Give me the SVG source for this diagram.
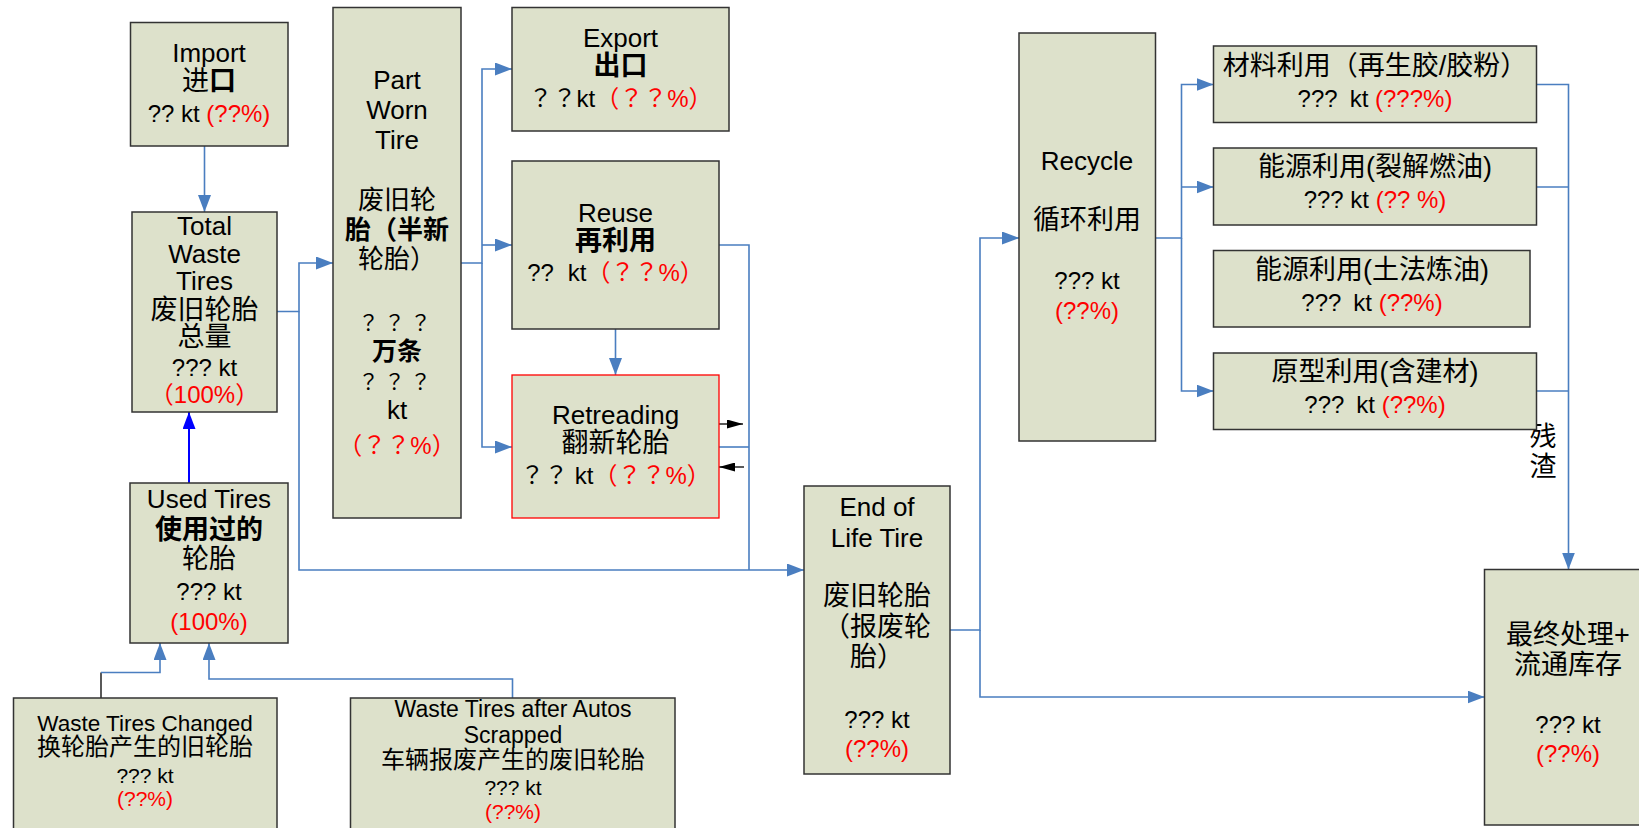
<svg xmlns="http://www.w3.org/2000/svg" width="1639" height="828" viewBox="0 0 1639 828">
<style>
.box{fill:#DDE1CB;stroke:#333;stroke-width:1.5}
.rb{fill:#DDE1CB;stroke:#FF0000;stroke-width:1.3}
text{font-family:"Liberation Sans","Noto Sans CJK SC",sans-serif;text-anchor:middle;fill:#000}
.l{font-size:26px}
.c{font-size:27px}
.n{font-size:24px}
.r{fill:#FF0000}
.b{font-weight:bold}
.j{font-family:"Noto Sans CJK JP",sans-serif}
.w{fill:none;stroke:#4A7EC0;stroke-width:1.6}
.k{fill:none;stroke:#000;stroke-width:1.3}
</style>
<defs>
<marker id="ab" markerUnits="userSpaceOnUse" markerWidth="18" markerHeight="13" refX="17" refY="6.5" orient="auto"><path d="M0,0 L17,6.5 L0,13 z" fill="#4A7EC0"/></marker>
<marker id="ap" markerUnits="userSpaceOnUse" markerWidth="18" markerHeight="13" refX="17" refY="6.5" orient="auto"><path d="M0,0 L17,6.5 L0,13 z" fill="#0000FF"/></marker>
<marker id="ak" markerUnits="userSpaceOnUse" markerWidth="17" markerHeight="9" refX="16" refY="4.5" orient="auto"><path d="M0,0 L16,4.5 L0,9 z" fill="#000"/></marker>
</defs>
<rect width="1639" height="828" fill="#fff"/>
<g id="connectors">
<path class="w" d="M204.5,146 V212" marker-end="url(#ab)"/>
<path d="M189,483 V412" fill="none" stroke="#0000FF" stroke-width="2" marker-end="url(#ap)"/>
<path class="w" d="M277,311.5 H299 V263 H333" marker-end="url(#ab)"/>
<path class="w" d="M299,311.5 V570 H804" marker-end="url(#ab)"/>
<path class="w" d="M461,263 H482 V69 H512" marker-end="url(#ab)"/>
<path class="w" d="M482,245 H512" marker-end="url(#ab)"/>
<path class="w" d="M482,263 V447 H512" marker-end="url(#ab)"/>
<path class="w" d="M615.5,329 V375" marker-end="url(#ab)"/>
<path class="w" d="M719,245 H749 V570"/>
<path class="w" d="M719,447 H749"/>
<path class="k" d="M719,424 H743" marker-end="url(#ak)"/>
<path class="k" d="M744,467 H719" marker-end="url(#ak)"/>
<path class="w" d="M950,630 H980 V238 H1019" marker-end="url(#ab)"/>
<path class="w" d="M980,630 V697 H1484.5" marker-end="url(#ab)"/>
<path class="w" d="M1155.5,238 H1181.5 V84.5 H1213.5" marker-end="url(#ab)"/>
<path class="w" d="M1181.5,187 H1213.5" marker-end="url(#ab)"/>
<path class="w" d="M1181.5,238 V391 H1213.5" marker-end="url(#ab)"/>
<path class="w" d="M1536.5,84.5 H1568.5 V569.5" marker-end="url(#ab)"/>
<path class="w" d="M1536.5,187 H1568.5"/>
<path class="w" d="M1536.5,391 H1568.5"/>
<path class="k" d="M101,698 V672.5"/>
<path class="w" d="M101,672.5 H160 V643" marker-end="url(#ab)"/>
<path class="w" d="M512.5,698 V679 H209 V643" marker-end="url(#ab)"/>
<text x="1543" y="446" class="c">残</text>
<text x="1543" y="476" class="c">渣</text>
</g>
<g id="import">
<rect class="box" x="130.5" y="22.5" width="157.5" height="123.5"/>
<text x="209" y="62" class="l">Import</text>
<text x="209" y="90" class="c">进<tspan class="b">口</tspan></text>
<text x="209" y="122" class="n">?? kt <tspan class="r">(??%)</tspan></text>
</g>
<g id="total">
<rect class="box" x="132" y="212" width="145" height="200"/>
<text x="204.5" y="235" class="l">Total</text>
<text x="204.5" y="263" class="l">Waste</text>
<text x="204.5" y="290" class="l">Tires</text>
<text x="204.5" y="319" class="c">废旧轮胎</text>
<text x="204.5" y="346" class="c">总量</text>
<text x="204.5" y="376" class="n">??? kt</text>
<text x="204.5" y="403" class="n r">（100%）</text>
</g>
<g id="partworn">
<rect class="box" x="333" y="7.5" width="128" height="510.5"/>
<text x="397" y="89" class="l">Part</text>
<text x="397" y="119" class="l">Worn</text>
<text x="397" y="149" class="l">Tire</text>
<text x="397" y="209" class="c" style="font-size:26px">废旧轮</text>
<text x="397" y="239" class="c b" style="font-size:26px">胎（半新</text>
<text x="397" y="268" class="c" style="font-size:26px">轮胎）</text>
<text x="397" y="330" class="j" style="font-size:21px;letter-spacing:5px">？？？</text>
<text x="397" y="360" class="c b" style="font-size:25px">万条</text>
<text x="397" y="389" class="j" style="font-size:21px;letter-spacing:5px">？？？</text>
<text x="397" y="419" class="l">kt</text>
<text x="397" y="454" class="n r">（<tspan class="j">？？</tspan>%）</text>
</g>
<g id="export">
<rect class="box" x="512" y="7.5" width="217" height="123.5"/>
<text x="620.5" y="47" class="l">Export</text>
<text x="620.5" y="75" class="c b">出口</text>
<text x="620.5" y="107" class="n"><tspan class="j">？？</tspan>kt<tspan class="r">（<tspan class="j">？？</tspan>%）</tspan></text>
</g>
<g id="reuse">
<rect class="box" x="512" y="161" width="207" height="168"/>
<text x="615.5" y="222" class="l">Reuse</text>
<text x="615.5" y="250" class="c b">再利用</text>
<text x="615.5" y="281" class="n">??<tspan dx="14">kt</tspan><tspan class="r">（<tspan class="j">？？</tspan>%）</tspan></text>
</g>
<g id="retreading">
<rect class="rb" x="512" y="375" width="207" height="143"/>
<text x="615.5" y="424" class="l">Retreading</text>
<text x="615.5" y="452" class="c">翻新轮胎</text>
<text x="615.5" y="484" class="n"><tspan class="j">？？</tspan> kt<tspan class="r">（<tspan class="j">？？</tspan>%）</tspan></text>
</g>
<g id="used">
<rect class="box" x="130" y="483" width="158" height="160"/>
<text x="209" y="508" class="l">Used Tires</text>
<text x="209" y="539" class="c b">使用过的</text>
<text x="209" y="568" class="c">轮胎</text>
<text x="209" y="600" class="n">??? kt</text>
<text x="209" y="630" class="n r">(100%)</text>
</g>
<g id="changed">
<rect class="box" x="13.5" y="698" width="263.5" height="140"/>
<text x="145" y="731" style="font-size:22.5px">Waste Tires Changed</text>
<text x="145" y="755" style="font-size:24px">换轮胎产生的旧轮胎</text>
<text x="145" y="783" style="font-size:21px">??? kt</text>
<text x="145" y="806" style="font-size:21px" class="r">(??%)</text>
</g>
<g id="autos">
<rect class="box" x="350.5" y="698" width="324.5" height="140"/>
<text x="513" y="717" style="font-size:23px">Waste Tires after Autos</text>
<text x="513" y="743" style="font-size:23px">Scrapped</text>
<text x="513" y="768" style="font-size:24px">车辆报废产生的废旧轮胎</text>
<text x="513" y="795" style="font-size:21px">??? kt</text>
<text x="513" y="819" style="font-size:21px" class="r">(??%)</text>
</g>
<g id="endoflife">
<rect class="box" x="804" y="486" width="146" height="288"/>
<text x="877" y="516" class="l">End of</text>
<text x="877" y="547" class="l">Life Tire</text>
<text x="877" y="605" class="c">废旧轮胎</text>
<text x="877" y="636" class="c">（报废轮</text>
<text x="877" y="666" class="c">胎）</text>
<text x="877" y="728" class="n">??? kt</text>
<text x="877" y="757" class="n r">(??%)</text>
</g>
<g id="recycle">
<rect class="box" x="1019" y="33" width="136.5" height="408"/>
<text x="1087" y="170" class="l">Recycle</text>
<text x="1087" y="229" class="c">循环利用</text>
<text x="1087" y="289" class="n">??? kt</text>
<text x="1087" y="319" class="n r">(??%)</text>
</g>
<g id="material">
<rect class="box" x="1213.5" y="46" width="323" height="76.5"/>
<text x="1375" y="75" class="c">材料利用（再生胶/胶粉）</text>
<text x="1375" y="107" class="n">???<tspan dx="12">kt </tspan><tspan class="r">(???%)</tspan></text>
</g>
<g id="energy1">
<rect class="box" x="1213.5" y="148" width="323" height="77"/>
<text x="1375" y="176" class="c">能源利用(裂解燃油)</text>
<text x="1375" y="208" class="n">??? kt <tspan class="r">(?? %)</tspan></text>
</g>
<g id="energy2">
<rect class="box" x="1213.5" y="250.5" width="316.5" height="76.5"/>
<text x="1372" y="279" class="c">能源利用(土法炼油)</text>
<text x="1372" y="311" class="n">???<tspan dx="12">kt </tspan><tspan class="r">(??%)</tspan></text>
</g>
<g id="original">
<rect class="box" x="1213.5" y="353" width="323" height="76.5"/>
<text x="1375" y="381" class="c">原型利用(含建材)</text>
<text x="1375" y="413" class="n">???<tspan dx="12">kt </tspan><tspan class="r">(??%)</tspan></text>
</g>
<g id="final">
<rect class="box" x="1484.5" y="569.5" width="170" height="255.5"/>
<text x="1568" y="644" class="c">最终处理+</text>
<text x="1568" y="674" class="c">流通库存</text>
<text x="1568" y="733" class="n">??? kt</text>
<text x="1568" y="762" class="n r">(??%)</text>
</g>
</svg>
